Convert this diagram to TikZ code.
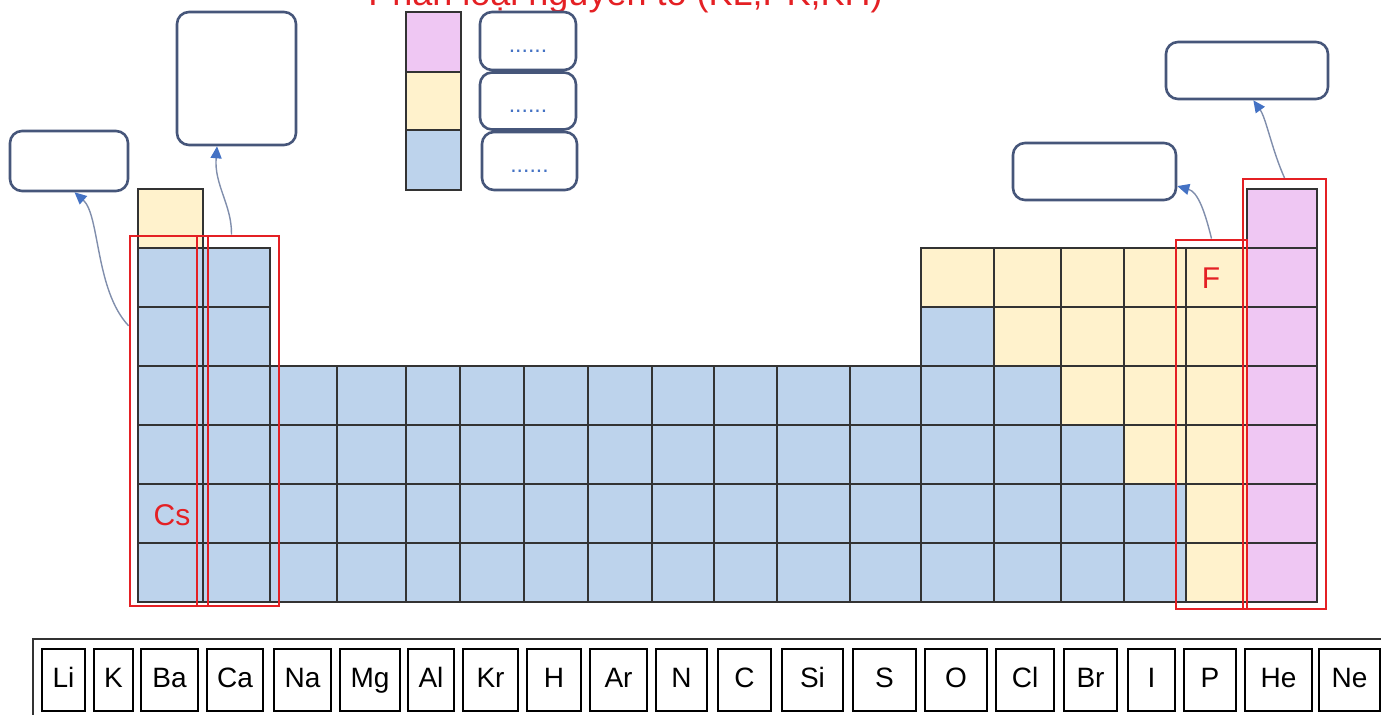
\documentclass[tikz,border=0pt]{standalone}
\usepackage{fontspec}
\setmainfont{Liberation Sans}
\usetikzlibrary{arrows.meta,fit}
\definecolor{metalc}{RGB}{189,211,236}
\definecolor{nonmetalc}{RGB}{255,242,204}
\definecolor{noblec}{RGB}{239,199,243}
\definecolor{markred}{RGB}{228,32,36}
\definecolor{boxline}{RGB}{70,86,122}
\definecolor{linkgray}{RGB}{128,142,172}
\definecolor{tipblue}{RGB}{68,114,196}
\tikzset{
  cell/.style={draw=black!80, line width=0.7pt},
  redframe/.style={draw=markred, line width=1.4pt, inner sep=0pt},
  callout/.style={draw=boxline, line width=1.3pt, rounded corners=6pt, fill=white, inner sep=0pt},
  link/.style={draw=linkgray, line width=0.7pt, -{Triangle[length=6pt,width=5.5pt,color=tipblue]}},
  elem/.style={draw=black, line width=0.7pt, inner sep=0pt, minimum height=31pt, text height=10pt, text depth=2.5pt, font=\fontsize{14}{16}\selectfont},
  redlabel/.style={text=markred, font=\fontsize{15}{18}\selectfont},
  dotted text/.style={text=tipblue, font=\fontsize{11.5}{13}\selectfont, text height=12pt, text depth=0pt},
}
\begin{document}
\begin{tikzpicture}[x=0.5pt,y=-0.5pt]
\useasboundingbox (0,0) rectangle (1381,715);
% title, cut by the top edge
\node[text=markred, font=\fontsize{18}{21}\selectfont, anchor=base west, inner sep=0pt] (title) at (368,6) {Phân loại nguyên tố (KL,PK,KH)};
% legend
\draw[cell, fill=noblec] (406,12) rectangle (461,72);
\draw[cell, fill=nonmetalc] (406,72) rectangle (461,130);
\draw[cell, fill=metalc] (406,130) rectangle (461,190);
\node[callout, dotted text, minimum width=48pt, minimum height=29pt] (lg1) at (528,41) {......};
\node[callout, dotted text, minimum width=48pt, minimum height=28.5pt] (lg2) at (528,101) {......};
\node[callout, dotted text, minimum width=47.5pt, minimum height=29pt] (lg3) at (529.5,161) {......};
% empty answer boxes
\node[callout, fit={(10,131) (128,191)}] (lbox) {};
\node[callout, fit={(177,12) (296,145)}] (tbox) {};
\node[callout, fit={(1013,143) (1176,200)}] (fbox) {};
\node[callout, fit={(1166,42) (1328,99)}] (hbox) {};
% the table: x from/x to/first row/last yellow row
\foreach \xa/\xb/\ra/\ry [count=\c] in {138/203/1/1, 203/270/2/0, 270/337/4/0,
    337/406/4/0, 406/460/4/0, 460/524/4/0, 524/588/4/0, 588/652/4/0, 652/714/4/0,
    714/777/4/0, 777/850/4/0, 850/921/4/0, 921/994/2/2, 994/1061/2/3, 1061/1124/2/4,
    1124/1186/2/5, 1186/1247/2/7, 1247/1317/1/0}
  \foreach \r in {\ra,...,7}{
    \pgfmathsetmacro\yt{189+59*(\r-1)}
    \ifnum\r>\ry \def\cellcol{metalc}\else \def\cellcol{nonmetalc}\fi
    \ifnum\c=18 \def\cellcol{noblec}\fi
    \draw[cell, fill=\cellcol] (\xa,\yt) rectangle (\xb,\yt+59);
  }
% red frames
\node[redframe, fit={(130,236) (208,606)}] (r1) {};
\node[redframe, fit={(197,236) (279,606)}] (r2) {};
\node[redframe, fit={(1176,240) (1247,609)}] (rF) {};
\node[redframe, line width=1.1pt, fit={(1243,179) (1326,609)}] (rHe) {};
\node[redlabel] (cs) at (172,515) {Cs};
\node[redlabel] (fl) at (1211,278) {F};
% links
\draw[link] (r1.113) .. controls (95,290) and (100,215) .. (lbox.-80);
\draw[link] (r2.92) .. controls (232,205) and (214,185) .. (tbox.-106);
\draw[link] (rF.north) .. controls (1205,212) and (1198,192) .. (fbox.-10);
\draw[link] (rHe.north) .. controls (1272,150) and (1266,118) .. (hbox.-78);
% element cards
\draw[line width=0.8pt, draw=black!80] (33,639) rectangle (1395,730);
\foreach \xa/\xb/\el in {42/85/Li, 94/133/K, 141/198/Ba, 207/263/Ca, 274/331/Na,
    340/400/Mg, 408/454/Al, 463/518/Kr, 527/581/H, 590/647/Ar, 656/707/N,
    718/771/C, 782/843/Si, 853/916/S, 925/987/O, 996/1054/Cl, 1064/1117/Br,
    1128/1175/I, 1184/1236/P, 1245/1312/He, 1319/1380/Ne}{
  \pgfmathsetmacro\cw{(\xb-\xa)*0.5}
  \node[elem, minimum width=\cw pt] (e-\el) at ({(\xa+\xb)/2},680) {\el};
}
\end{tikzpicture}
\end{document}
